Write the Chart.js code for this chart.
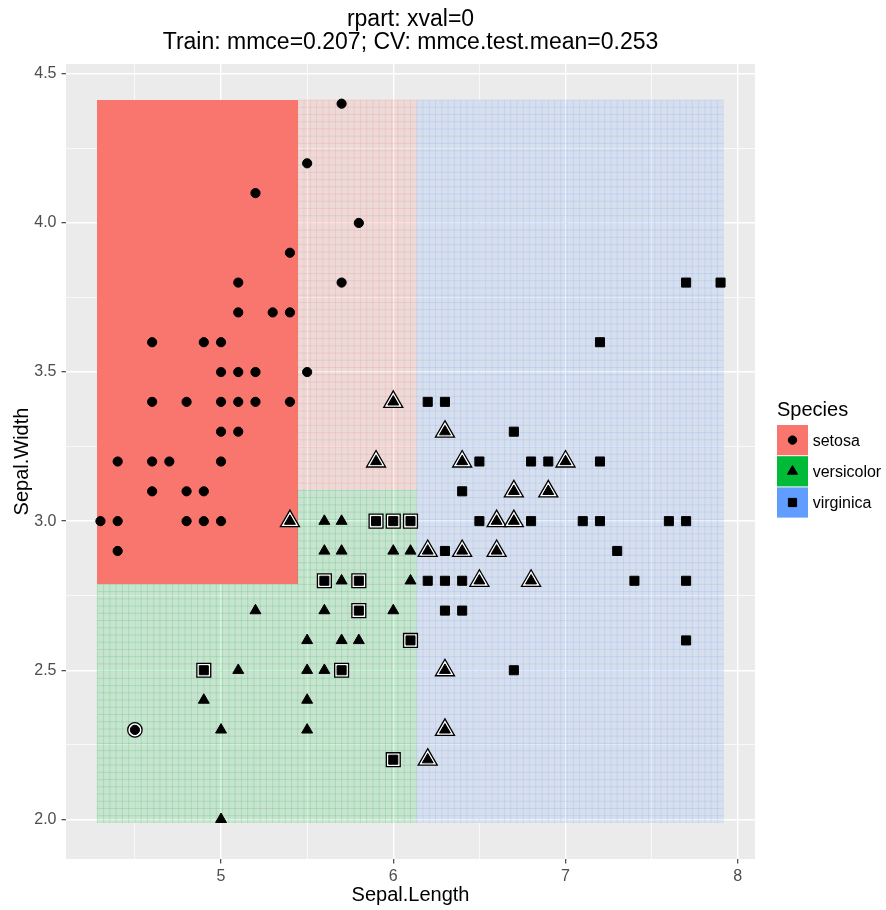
<!DOCTYPE html>
<html>
<head>
<meta charset="utf-8">
<title>rpart: xval=0</title>
<script src="https://cdn.jsdelivr.net/npm/chart.js@4.4.0/dist/chart.umd.min.js"></script>
<style>
  html, body { margin: 0; padding: 0; background: #ffffff; }
  #wrap { width: 886px; height: 910px; }
</style>
</head>
<body>
<div id="wrap"><canvas id="chart" width="886" height="910"></canvas></div>
<script>
// iris points (Sepal.Length / Sepal.Width)
const species = ['setosa', 'versicolor', 'virginica'];

const setosaLength = [5.7, 5.5, 5.2, 5.8, 5.4, 5.1, 5.7, 5.1, 5.3, 5.4, 4.6, 4.9, 5.0,
  5.0, 5.1, 5.2, 5.5, 4.6, 4.8, 5.0, 5.1, 5.2, 5.4, 5.0, 5.1, 4.4, 4.6, 4.7, 5.0,
  4.6, 4.8, 4.9, 4.3, 4.4, 4.8, 4.9, 5.0, 4.4, 4.5];
const setosaWidth = [4.4, 4.2, 4.1, 4.0, 3.9, 3.8, 3.8, 3.7, 3.7, 3.7, 3.6, 3.6, 3.6,
  3.5, 3.5, 3.5, 3.5, 3.4, 3.4, 3.4, 3.4, 3.4, 3.4, 3.3, 3.3, 3.2, 3.2, 3.2, 3.2,
  3.1, 3.1, 3.1, 3.0, 3.0, 3.0, 3.0, 3.0, 2.9, 2.3];

const versicolorLength = [6.0, 6.3, 5.9, 6.4, 7.0, 6.7, 6.9, 5.4, 5.6, 5.7, 6.6, 6.7,
  5.6, 5.7, 6.0, 6.1, 6.2, 6.4, 6.6, 5.7, 6.1, 6.5, 6.8, 5.2, 5.6, 6.0, 5.5, 5.7, 5.8,
  5.1, 5.5, 5.6, 6.3, 4.9, 5.5, 5.0, 5.5, 6.3, 6.2, 5.0];
const versicolorWidth = [3.4, 3.3, 3.2, 3.2, 3.2, 3.1, 3.1, 3.0, 3.0, 3.0, 3.0, 3.0,
  2.9, 2.9, 2.9, 2.9, 2.9, 2.9, 2.9, 2.8, 2.8, 2.8, 2.8, 2.7, 2.7, 2.7, 2.6, 2.6, 2.6,
  2.5, 2.5, 2.5, 2.5, 2.4, 2.4, 2.3, 2.3, 2.3, 2.2, 2.0];

const virginicaLength = [7.7, 7.9, 7.2, 6.2, 6.3, 6.7, 6.5, 6.8, 6.9, 7.2, 6.4,
  5.9, 6.0, 6.1, 6.5, 6.8, 7.1, 7.2, 7.6, 7.7, 6.3, 7.3, 5.6, 5.8, 6.2, 6.3, 6.4, 7.4,
  7.7, 5.8, 6.3, 6.4, 6.1, 7.7, 4.9, 5.7, 6.7, 6.0];
const virginicaWidth = [3.8, 3.8, 3.6, 3.4, 3.4, 3.3, 3.2, 3.2, 3.2, 3.2, 3.1,
  3.0, 3.0, 3.0, 3.0, 3.0, 3.0, 3.0, 3.0, 3.0, 2.9, 2.9, 2.8, 2.8, 2.8, 2.8, 2.8, 2.8,
  2.8, 2.7, 2.7, 2.7, 2.6, 2.6, 2.5, 2.5, 2.5, 2.2];

// tree splits and prediction grid
const lengthSplits = [5.45, 6.15];
const widthSplits = [2.79, 3.1];
const gridSize = 100;
const lengthRange = [4.3, 7.9];
const widthRange = [2.0, 4.4];

// axes
const xLimits = [4.1, 8.1];
const yLimits = [1.867, 4.533];
const xTicks = [4.5, 5, 5.5, 6, 6.5, 7, 7.5, 8];
const xTickLabels = ['', '5', '', '6', '', '7', '', '8'];
const yTicks = [2.0, 2.25, 2.5, 2.75, 3.0, 3.25, 3.5, 3.75, 4.0, 4.25, 4.5];
const yTickLabels = ['2.0', '', '2.5', '', '3.0', '', '3.5', '', '4.0', '', '4.5'];

const titleLines = ['rpart: xval=0', 'Train: mmce=0.207; CV: mmce.test.mean=0.253'];

const palette = { setosa: '#F8766D', versicolor: '#00BA38', virginica: '#619CFF' };
const shapes = { setosa: 'circle', versicolor: 'triangle', virginica: 'rect' };
const innerRadius = { circle: 4.6, triangle: 6.3, rect: 6.4 };
const outerRadius = { circle: 7.2, triangle: 11, rect: 9.8 };

function predict(x, y) {
    if (x < lengthSplits[0] && y >= widthSplits[0]) return 'setosa';
    if (x < lengthSplits[1]) return y >= widthSplits[1] ? 'setosa' : 'versicolor';
    return 'virginica';
}

function isSolidLeaf(x, y) {
    return x < lengthSplits[0] && y >= widthSplits[0];
}

function hexToRgba(hex, a) {
    const n = parseInt(hex.slice(1), 16);
    return `rgba(${(n >> 16) & 255}, ${(n >> 8) & 255}, ${n & 255}, ${a})`;
}

const points = {
    setosa: [setosaLength, setosaWidth],
    versicolor: [versicolorLength, versicolorWidth],
    virginica: [virginicaLength, virginicaWidth]
};

const datasets = [];
species.forEach(sp => {
    const [xs, ys] = points[sp];
    const all = xs.map((v, i) => ({ x: v, y: ys[i] }));
    const wrong = all.filter(p => predict(p.x, p.y) !== sp);
    const shape = shapes[sp];
    datasets.push({
        label: sp + ' (error)',
        data: wrong,
        order: 2,
        pointStyle: shape,
        pointRadius: outerRadius[shape],
        pointBackgroundColor: '#ffffff',
        pointBorderColor: '#000000',
        pointBorderWidth: 1.3
    });
    datasets.push({
        label: sp,
        data: all,
        order: 1,
        pointStyle: shape,
        pointRadius: innerRadius[shape],
        pointBackgroundColor: '#000000',
        pointBorderColor: '#000000',
        pointBorderWidth: 1
    });
});

// panel background
const panelPlugin = {
    id: 'panel',
    beforeDraw(chart) {
        const { ctx, chartArea: a } = chart;
        ctx.save();
        ctx.fillStyle = '#EBEBEB';
        ctx.fillRect(a.left, a.top, a.right - a.left, a.bottom - a.top);
        ctx.restore();
    }
};

// prediction tiles (drawn over the grid, under the points)
const tilePlugin = {
    id: 'tiles',
    beforeDatasetsDraw(chart) {
        const { ctx, scales: { x, y } } = chart;
        const dx = (lengthRange[1] - lengthRange[0]) / (gridSize - 1);
        const dy = (widthRange[1] - widthRange[0]) / (gridSize - 1);
        const paths = { setosa: new Path2D(), versicolor: new Path2D(), virginica: new Path2D() };
        ctx.save();
        for (let i = 0; i < gridSize; i++) {
            const cx = lengthRange[0] + i * dx;
            const xa = x.getPixelForValue(cx - dx / 2);
            const xb = x.getPixelForValue(cx + dx / 2);
            for (let j = 0; j < gridSize; j++) {
                const cy = widthRange[0] + j * dy;
                const ya = y.getPixelForValue(cy + dy / 2);
                const yb = y.getPixelForValue(cy - dy / 2);
                const cls = predict(cx, cy);
                const solid = isSolidLeaf(cx, cy);
                ctx.fillStyle = hexToRgba(palette[cls], solid ? 1 : 0.14);
                const l = Math.round(xa), t = Math.round(ya);
                ctx.fillRect(l, t, Math.round(xb) - l, Math.round(yb) - t);
                if (!solid) {
                    const p = paths[cls];
                    p.moveTo(xa, ya); p.lineTo(xa, yb);
                    p.moveTo(xa, ya); p.lineTo(xb, ya);
                }
            }
        }
        ctx.lineWidth = 0.8;
        species.forEach(sp => {
            ctx.strokeStyle = hexToRgba(palette[sp], 0.22);
            ctx.stroke(paths[sp]);
        });
        ctx.restore();
    }
};

// legend on the right
const legendPlugin = {
    id: 'speciesLegend',
    afterDraw(chart) {
        const { ctx } = chart;
        const left = 777, keyTop = 425, keyH = 31.2, keyW = 31;
        ctx.save();
        ctx.fillStyle = '#000';
        ctx.font = '20px "Liberation Sans", Arial, sans-serif';
        ctx.textBaseline = 'middle';
        ctx.textAlign = 'left';
        ctx.fillText('Species', left, 410);
        species.forEach((sp, i) => {
            const top = keyTop + i * keyH;
            ctx.fillStyle = palette[sp];
            ctx.fillRect(left, top, keyW, keyH - 1);
            const cy = top + (keyH - 1) / 2;
            const shape = shapes[sp];
            ctx.fillStyle = '#000';
            ctx.strokeStyle = '#000';
            Chart.helpers.drawPoint(ctx, {
                pointStyle: shape,
                radius: shape === 'circle' ? 4.2 : shape === 'triangle' ? 5.8 : 5.8,
                borderWidth: 1,
                rotation: 0
            }, left + keyW / 2, cy);
            ctx.fillStyle = '#000';
            ctx.font = '16px "Liberation Sans", Arial, sans-serif';
            ctx.fillText(sp, 812.7, cy + 1);
        });
        ctx.restore();
    }
};

function gridMajor(ticks, labels, ctx) {
    if (!ctx.tick) return false;
    const i = ticks.indexOf(ctx.tick.value);
    return i >= 0 && labels[i] !== '';
}

Chart.defaults.font.family = '"Liberation Sans", Arial, sans-serif';

new Chart(document.getElementById('chart').getContext('2d'), {
    type: 'scatter',
    data: { datasets: datasets },
    options: {
        responsive: false,
        animation: false,
        devicePixelRatio: 1,
        events: [],
        layout: { padding: { left: 0, right: 131, top: 0, bottom: 0 } },
        plugins: {
            legend: { display: false },
            tooltip: { enabled: false },
            title: {
                display: true,
                fullSize: false,
                text: titleLines,
                color: '#000000',
                font: { size: 23, weight: 'normal', lineHeight: 1.0 },
                padding: { top: 8, bottom: 10 }
            }
        },
        scales: {
            x: {
                type: 'linear',
                min: xLimits[0],
                max: xLimits[1],
                afterBuildTicks: s => { s.ticks = xTicks.map(v => ({ value: v })); },
                afterFit: s => { s.height = 51; },
                border: { display: false },
                grid: {
                    color: '#ffffff',
                    lineWidth: c => gridMajor(xTicks, xTickLabels, c) ? 1.4 : 0.7,
                    drawTicks: true,
                    tickLength: 4.5,
                    tickWidth: 1.1,
                    tickColor: c => gridMajor(xTicks, xTickLabels, c) ? '#333333' : 'rgba(0,0,0,0)'
                },
                ticks: {
                    autoSkip: false,
                    maxRotation: 0,
                    padding: 3,
                    color: '#4D4D4D',
                    font: { size: 16 },
                    callback: v => { const i = xTicks.indexOf(v); return i >= 0 ? xTickLabels[i] : ''; }
                },
                title: {
                    display: true,
                    text: 'Sepal.Length',
                    color: '#000000',
                    font: { size: 20 },
                    padding: { top: 0, bottom: 3 }
                }
            },
            y: {
                type: 'linear',
                min: yLimits[0],
                max: yLimits[1],
                afterBuildTicks: s => { s.ticks = yTicks.map(v => ({ value: v })); },
                afterFit: s => { s.width = 66; },
                border: { display: false },
                grid: {
                    color: '#ffffff',
                    lineWidth: c => gridMajor(yTicks, yTickLabels, c) ? 1.4 : 0.7,
                    drawTicks: true,
                    tickLength: 4.5,
                    tickWidth: 1.1,
                    tickColor: c => gridMajor(yTicks, yTickLabels, c) ? '#333333' : 'rgba(0,0,0,0)'
                },
                ticks: {
                    autoSkip: false,
                    padding: 5,
                    color: '#4D4D4D',
                    font: { size: 16 },
                    callback: v => { const i = yTicks.indexOf(v); return i >= 0 ? yTickLabels[i] : ''; }
                },
                title: {
                    display: true,
                    text: 'Sepal.Width',
                    color: '#000000',
                    font: { size: 20 },
                    padding: { top: 10, bottom: 0 }
                }
            }
        }
    },
    plugins: [panelPlugin, tilePlugin, legendPlugin]
});
</script>
</body>
</html>
